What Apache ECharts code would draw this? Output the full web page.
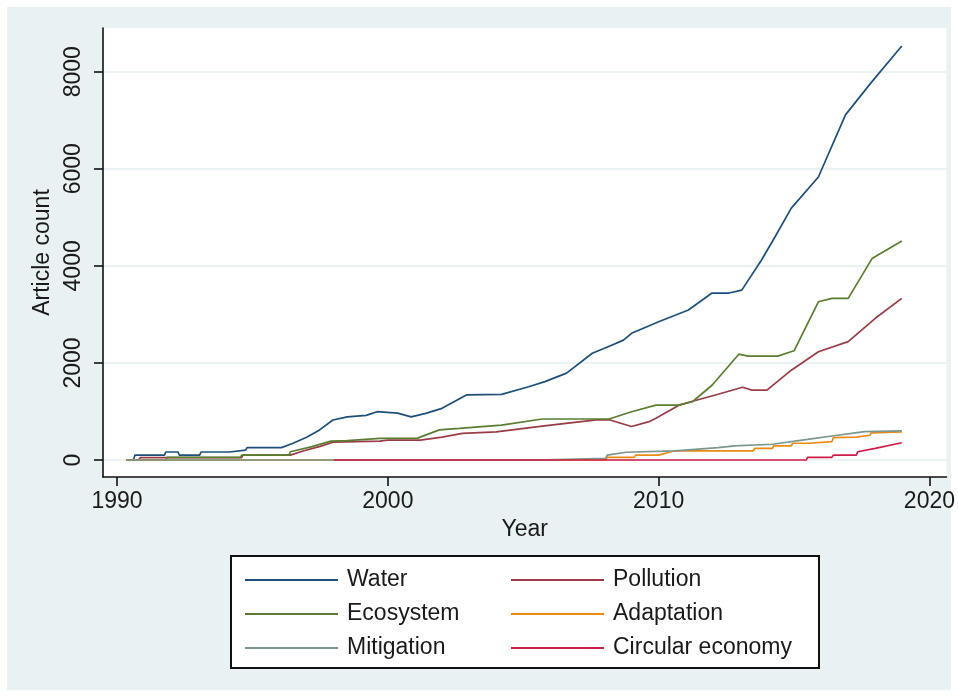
<!DOCTYPE html>
<html>
<head>
<meta charset="utf-8">
<script src="https://cdn.jsdelivr.net/npm/echarts@6/dist/echarts.min.js"></script>
<style>
  html, body { margin: 0; padding: 0; background: #fff; }
  #chart { width: 958px; height: 697px; background: #e9f1f3; box-shadow: inset 0 0 0 7px #fff; }
</style>
</head>
<body>
<div id="chart"></div>
<script>
// values (year, cumulative article count)
const waterYears = [1990.35, 1990.6, 1990.66, 1991.75, 1991.8, 1992.25, 1992.3, 1993.05, 1993.1, 1994.15, 1994.2, 1994.75, 1994.8, 1996.07, 1996.5, 1997.0, 1997.48, 1997.97, 1998.5, 1999.2, 1999.6, 2000.36, 2000.86, 2001.4, 2002.0, 2002.9, 2004.2, 2005.2, 2005.8, 2006.6, 2007.55, 2008.2, 2008.7, 2009.0, 2010.0, 2011.1, 2011.97, 2012.6, 2013.07, 2013.8, 2014.3, 2014.9, 2015.9, 2016.9, 2017.87, 2018.98];
const waterCounts = [0, 0, 100, 100, 165, 165, 100, 100, 165, 165, 205, 205, 255, 255, 345, 470, 620, 825, 890, 920, 995, 965, 890, 960, 1065, 1340, 1353, 1510, 1615, 1790, 2200, 2350, 2470, 2610, 2850, 3090, 3440, 3440, 3500, 4120, 4600, 5190, 5830, 7110, 7790, 8530];

const pollutionYears = [1990.35, 1990.8, 1990.85, 1994.6, 1994.65, 1996.4, 1996.9, 1997.5, 1998.0, 1999.7, 2000.0, 2001.2, 2002.0, 2002.75, 2004.0, 2005.7, 2007.7, 2008.2, 2009.0, 2009.65, 2009.9, 2010.75, 2011.25, 2012.1, 2013.1, 2013.45, 2014.0, 2014.9, 2015.9, 2017.0, 2018.0, 2018.98];
const pollutionCounts = [0, 0, 50, 50, 100, 100, 190, 280, 370, 390, 410, 410, 470, 550, 580, 700, 825, 825, 690, 790, 860, 1130, 1210, 1340, 1500, 1440, 1440, 1850, 2230, 2440, 2920, 3330];

const ecosystemYears = [1990.35, 1991.8, 1991.85, 1994.55, 1994.6, 1996.35, 1996.4, 1997.2, 1997.9, 1998.5, 1999.7, 2001.1, 2001.9, 2002.64, 2004.2, 2005.7, 2008.17, 2009.0, 2009.9, 2010.75, 2011.25, 2011.98, 2012.96, 2013.3, 2014.4, 2015.0, 2015.9, 2016.4, 2017.0, 2017.88, 2018.98];
const ecosystemCounts = [0, 0, 55, 55, 100, 100, 170, 275, 390, 400, 445, 450, 620, 650, 720, 845, 845, 995, 1130, 1130, 1200, 1545, 2180, 2140, 2140, 2250, 3260, 3330, 3330, 4150, 4510];

const adaptationYears = [1990.35, 2008.05, 2008.1, 2009.1, 2009.15, 2010.0, 2010.6, 2013.5, 2013.55, 2014.2, 2014.25, 2014.9, 2014.95, 2015.55, 2015.6, 2016.4, 2016.45, 2017.3, 2017.35, 2017.8, 2017.85, 2018.98];
const adaptationCounts = [0, 0, 55, 55, 100, 100, 190, 190, 240, 240, 290, 290, 345, 345, 380, 380, 460, 470, 510, 510, 560, 580];

const mitigationYears = [1990.35, 2005.55, 2005.6, 2008.05, 2008.1, 2008.8, 2010.6, 2012.2, 2012.8, 2014.2, 2015.5, 2016.4, 2017.6, 2018.98];
const mitigationCounts = [0, 0, 35, 35, 100, 160, 190, 255, 290, 325, 425, 495, 585, 600];

const circularYears = [1998.0, 2015.45, 2015.5, 2016.4, 2016.45, 2017.3, 2017.35, 2018.0, 2018.98];
const circularCounts = [0, 0, 55, 55, 100, 100, 170, 240, 355];

const xTicks = [1990, 2000, 2010, 2020];
const yTicks = [0, 2000, 4000, 6000, 8000];

const font = 'Liberation Sans, Arial, Helvetica, sans-serif';
const ink = '#1a1a1a';

function pairs(xs, ys) {
  return xs.map((x, i) => [x, ys[i]]);
}

const seriesDefs = [
  {name: 'Water', color: '#1d4f7c', xs: waterYears, ys: waterCounts},
  {name: 'Pollution', color: '#993c46', xs: pollutionYears, ys: pollutionCounts},
  {name: 'Ecosystem', color: '#5a7d30', xs: ecosystemYears, ys: ecosystemCounts},
  {name: 'Adaptation', color: '#ec8a14', xs: adaptationYears, ys: adaptationCounts},
  {name: 'Mitigation', color: '#7b978d', xs: mitigationYears, ys: mitigationCounts},
  {name: 'Circular economy', color: '#cf1d47', xs: circularYears, ys: circularCounts}
];

const chart = echarts.init(document.getElementById('chart'), null, {renderer: 'canvas'});

const legendBase = {
  orient: 'vertical',
  icon: 'rect',
  itemWidth: 93,
  itemHeight: 2,
  itemGap: 10,
  top: 563,
  selectedMode: false,
  textStyle: {fontFamily: font, fontSize: 23, color: ink, lineHeight: 24, padding: [0, 0, 0, 4]}
};

chart.setOption({
  animation: false,
  textStyle: {fontFamily: font},
  grid: {
    left: 103, top: 28, right: 10, bottom: 220,
    show: true, backgroundColor: '#fff', borderWidth: 0
  },
  graphic: [{
    type: 'rect',
    shape: {x: 231, y: 556, width: 588, height: 112},
    style: {fill: '#fff', stroke: '#111', lineWidth: 2},
    z: -1
  }],
  legend: [
    Object.assign({}, legendBase, {left: 240, data: ['Water', 'Ecosystem', 'Mitigation']}),
    Object.assign({}, legendBase, {left: 506, data: ['Pollution', 'Adaptation', 'Circular economy']})
  ],
  xAxis: {
    type: 'value',
    min: 1989.48,
    max: 2020.63,
    name: 'Year',
    nameLocation: 'middle',
    nameGap: 37,
    nameTextStyle: {fontFamily: font, fontSize: 23, color: ink},
    axisLine: {onZero: false, lineStyle: {color: '#111', width: 1.6}},
    axisTick: {customValues: xTicks, length: 9, lineStyle: {color: '#111', width: 1.6}},
    axisLabel: {customValues: xTicks, margin: 13, fontFamily: font, fontSize: 23, color: ink,
      formatter: v => String(v)},
    splitLine: {show: false}
  },
  yAxis: {
    type: 'value',
    min: -350,
    max: 8900,
    name: 'Article count',
    nameLocation: 'middle',
    nameGap: 40,
    nameTextStyle: {fontFamily: font, fontSize: 23, color: ink},
    axisLine: {show: true, onZero: false, lineStyle: {color: '#111', width: 1.6}},
    axisTick: {show: true, customValues: yTicks, length: 9, lineStyle: {color: '#111', width: 1.6}},
    axisLabel: {customValues: yTicks, rotate: 90, margin: 18, fontFamily: font, fontSize: 23, color: ink,
      formatter: v => String(v)},
    splitLine: {show: true, lineStyle: {color: '#e4eef1', width: 1.5}}
  },
  series: seriesDefs.map(d => ({
    name: d.name,
    type: 'line',
    data: pairs(d.xs, d.ys),
    showSymbol: false,
    symbol: 'none',
    color: d.color,
    lineStyle: {color: d.color, width: 1.7}
  }))
});
</script>
</body>
</html>
